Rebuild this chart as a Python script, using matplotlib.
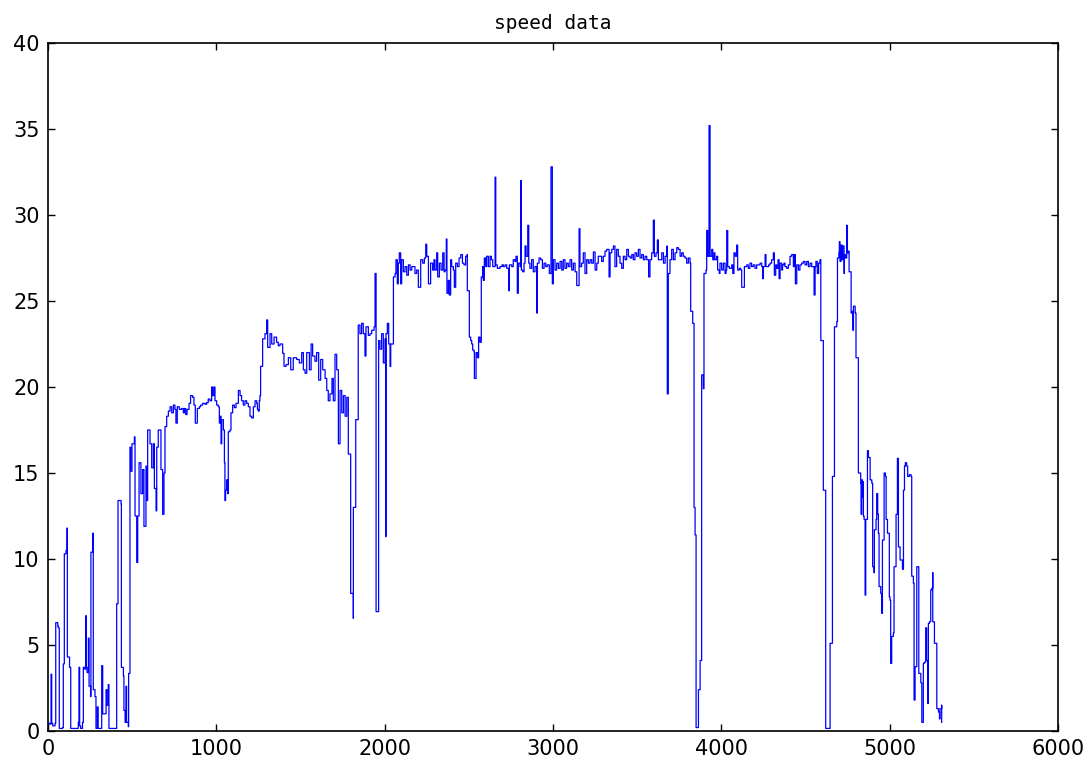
import matplotlib
matplotlib.use('Agg')
import matplotlib.pyplot as plt

# speed samples, section by section
t_start = [2, 10, 18, 22, 28, 42, 46, 58, 61, 67, 87, 91, 97, 107, 113, 115, 128, 135, 170, 180,
           184, 188, 194, 205, 210, 218, 224, 228, 232, 240, 244, 253, 255, 265, 269, 279, 285, 293, 298, 305,
           319, 325, 330, 345, 350, 358, 362, 398, 408, 416, 434, 436, 448, 451, 458, 463, 467, 477, 479, 487,
           491, 499, 513, 517, 527, 533, 541, 552, 562, 570, 582, 586, 592, 606, 616, 626, 632, 642, 646, 655,
           667, 671, 681, 689, 695]
v_start = [0.45, 0.4, 3.3, 0.45, 0.3, 0.45, 6.3, 6.1, 6.0, 0.15, 0.2, 3.9, 10.3, 10.5, 11.8, 4.3, 3.7, 0.15, 0.15, 0.5,
           3.7, 0.3, 0.15, 0.5, 3.7, 3.6, 6.7, 3.7, 3.4, 5.4, 2.6, 2.0, 10.4, 11.5, 2.4, 2.0, 0.15, 1.4, 0.15, 0.15,
           3.8, 1.0, 1.0, 2.4, 1.5, 2.7, 0.15, 0.15, 7.4, 13.4, 13.2, 3.7, 3.2, 1.2, 0.5, 2.6, 0.5, 0.25, 3.35, 16.5,
           15.1, 16.7, 17.1, 12.5, 9.8, 12.5, 15.6, 13.8, 15.2, 11.9, 15.4, 13.4, 17.5, 16.7, 15.3, 16.7, 14.1, 12.8, 16.5, 17.5,
           17.5, 15.2, 12.6, 15.0, 17.7]

t_19 = [705, 715, 725, 735, 745, 754, 760, 768, 780, 794, 804, 810, 818, 826, 838, 847, 859, 867, 875, 883,
        887, 899, 907, 919, 933, 943, 952, 962, 972, 978, 986, 992, 1002, 1012, 1018, 1024, 1028, 1032, 1042, 1048,
        1051, 1055, 1061, 1067, 1071, 1081, 1087, 1097, 1107, 1117, 1131, 1141, 1150, 1160, 1170, 1180, 1190, 1200, 1210, 1220,
        1230, 1240, 1244, 1249, 1255, 1259]
v_19 = [18.3, 18.6, 18.85, 18.5, 18.95, 18.7, 17.9, 18.85, 18.7, 18.75, 18.5, 18.75, 18.4, 18.7, 19.05, 19.5, 19.4, 18.95, 17.9, 17.9,
        18.75, 18.85, 18.95, 19.05, 19.0, 19.1, 19.3, 19.2, 20.0, 19.5, 20.0, 19.2, 18.95, 18.85, 17.9, 18.3, 16.7, 18.1, 17.5, 15.6,
        13.4, 14.0, 14.6, 13.8, 17.4, 17.5, 18.5, 18.95, 18.8, 19.05, 19.8, 19.5, 19.2, 18.95, 19.2, 19.05, 18.85, 18.3, 18.2, 18.85,
        19.2, 19.05, 18.7, 18.6, 19.2, 19.5]

t_22 = [1263, 1275, 1289, 1299, 1305, 1319, 1329, 1343, 1358, 1368, 1378, 1394, 1402, 1414, 1428, 1442, 1457, 1477, 1493, 1507,
        1517, 1527, 1537, 1553, 1563, 1572, 1586, 1596, 1608, 1620, 1632, 1646, 1656, 1665, 1675, 1687, 1695, 1705, 1715, 1725,
        1735, 1745, 1755, 1765, 1775]
v_22 = [21.2, 22.8, 23.1, 23.9, 22.3, 23.1, 22.5, 22.9, 22.6, 22.4, 22.5, 21.96, 21.2, 21.3, 21.7, 21.0, 21.7, 21.6, 21.4, 22.0,
        21.0, 20.8, 22.0, 21.0, 22.5, 21.8, 21.5, 22.0, 20.4, 21.6, 21.0, 20.5, 19.8, 19.2, 19.6, 20.5, 19.2, 21.9, 21.0, 16.7,
        19.8, 18.5, 19.5, 18.3, 19.4]

t_dips = [1784, 1798, 1798, 1814, 1814, 1828, 1828, 1843, 1843, 1853, 1863, 1873, 1883, 1889, 1903, 1913, 1923, 1937, 1943, 1949,
          1962, 1964, 1972, 1982, 1992, 2002, 2006, 2008, 2016, 2024, 2032, 2036, 2045]
v_dips = [16.1, 15.4, 8.0, 6.55, 13.0, 13.6, 18.1, 18.5, 23.6, 23.1, 23.7, 23.1, 21.8, 23.5, 23.0, 23.1, 23.3, 23.5, 26.6, 6.94,
          6.94, 22.7, 22.2, 23.1, 21.4, 22.8, 11.3, 23.1, 23.7, 22.5, 21.2, 22.5, 22.5]

t_cruise1 = [2052, 2062, 2067, 2075, 2081, 2087, 2095, 2101, 2111, 2121, 2131, 2141, 2151, 2161, 2170, 2180, 2190, 2200, 2210, 2214,
             2226, 2236, 2244, 2250, 2260, 2269, 2273, 2285, 2293, 2299, 2309, 2315, 2325, 2335, 2345, 2353, 2359, 2366, 2370, 2378,
             2384, 2392, 2398, 2408, 2414, 2422, 2432, 2442, 2452, 2462, 2471, 2481, 2491, 2491, 2503, 2503, 2511, 2517, 2523, 2531,
             2533, 2543, 2543, 2551, 2558, 2558, 2566, 2574, 2582, 2586, 2592, 2600, 2606, 2616, 2626, 2634, 2642, 2656, 2660, 2669,
             2685, 2697, 2705, 2715, 2725, 2737, 2741, 2755, 2764, 2774, 2780, 2788, 2794, 2804, 2808, 2812, 2820, 2828, 2834, 2840,
             2850, 2856, 2863, 2873, 2883, 2893, 2903, 2907, 2917, 2927, 2937, 2947, 2957, 2966, 2978, 2988, 2996, 3002, 3012, 3022,
             3032, 3042, 3052, 3061, 3071, 3081, 3091, 3101, 3111, 3121, 3131, 3141, 3155, 3160, 3170, 3180, 3190, 3200, 3210, 3220,
             3230, 3240, 3250, 3260, 3269]
v_cruise1 = [26.4, 26.6, 27.4, 26.0, 27.2, 27.8, 26.0, 27.4, 26.7, 27.0, 26.5, 27.1, 26.8, 27.0, 27.0, 26.6, 26.8, 25.8, 25.8, 27.4,
             27.2, 27.5, 28.3, 27.6, 26.0, 26.0, 27.2, 26.8, 27.4, 26.8, 27.8, 26.4, 27.2, 26.8, 27.8, 26.7, 26.8, 28.6, 25.45, 26.2,
             25.35, 27.4, 27.0, 26.8, 25.8, 27.2, 27.0, 27.5, 27.7, 27.2, 27.1, 27.6, 27.7, 25.6, 24.8, 22.9, 22.7, 22.5, 22.15, 22.05,
             20.5, 20.6, 22.0, 21.7, 21.8, 22.9, 22.6, 26.4, 27.0, 26.2, 27.5, 27.0, 27.6, 27.0, 27.6, 27.4, 27.0, 32.2, 27.1, 26.9,
             27.0, 27.1, 27.0, 27.1, 26.9, 25.6, 27.1, 27.0, 27.4, 27.3, 27.6, 25.45, 27.2, 27.0, 32.0, 26.8, 26.7, 27.2, 28.2, 27.6,
             29.4, 27.2, 26.9, 27.4, 26.7, 27.0, 24.3, 27.2, 27.5, 27.4, 26.9, 27.2, 27.0, 27.1, 26.6, 32.8, 26.0, 27.4, 26.8, 27.2,
             26.9, 27.3, 26.8, 27.4, 26.9, 27.2, 27.0, 27.4, 26.8, 27.2, 26.7, 25.9, 29.2, 27.0, 27.2, 27.8, 26.6, 27.4, 27.2, 27.4,
             27.2, 27.85, 26.8, 27.2, 27.6]

t_cruise2 = [3279, 3289, 3299, 3309, 3319, 3333, 3339, 3349, 3359, 3368, 3378, 3388, 3398, 3408, 3418, 3428, 3438, 3448, 3458, 3468,
             3477, 3487, 3497, 3507, 3517, 3527, 3537, 3547, 3557, 3568, 3576, 3586, 3596, 3602, 3612, 3620, 3626, 3636, 3646, 3656,
             3666, 3677, 3679, 3685, 3695, 3705, 3715, 3725, 3735, 3745, 3755, 3764, 3774, 3784, 3794, 3804, 3814, 3818, 3830, 3838,
             3844, 3850, 3862, 3864, 3874, 3883, 3893, 3897, 3909, 3913, 3919, 3927, 3933, 3943, 3949, 3957, 3962, 3972, 3978, 3988,
             3992, 4002, 4012, 4022, 4028, 4032, 4038, 4048, 4062, 4068, 4075, 4083, 4091, 4097, 4107, 4115, 4121, 4131, 4137, 4151,
             4160, 4170, 4180, 4190, 4200, 4210]
v_cruise2 = [27.6, 27.3, 27.6, 27.9, 28.0, 26.4, 27.8, 28.0, 28.2, 27.0, 28.0, 27.6, 27.2, 26.9, 27.6, 27.4, 28.0, 27.6, 27.5, 27.7,
             27.4, 27.8, 27.6, 28.0, 27.5, 27.7, 27.4, 27.6, 27.4, 26.4, 27.4, 27.8, 29.7, 27.6, 27.8, 28.55, 27.4, 27.4, 27.8, 27.2,
             27.6, 28.2, 19.6, 26.6, 27.4, 28.0, 27.4, 27.8, 28.1, 28.0, 27.6, 27.8, 27.6, 27.5, 27.2, 27.5, 27.2, 24.4, 23.7, 13.0,
             11.4, 0.2, 0.2, 2.4, 4.1, 20.7, 19.9, 26.6, 26.8, 29.1, 27.6, 35.2, 27.6, 28.0, 27.4, 27.8, 27.4, 27.6, 26.8, 26.6,
             27.2, 26.8, 27.2, 26.6, 26.8, 29.1, 27.0, 26.9, 27.1, 26.6, 27.8, 27.6, 28.25, 26.8, 26.9, 26.8, 25.8, 25.8, 27.0, 27.1,
             26.9, 27.2, 27.0, 27.1, 26.9, 27.1]

t_cruise3 = [4230, 4240, 4246, 4250, 4260, 4265, 4273, 4281, 4289, 4299, 4309, 4315, 4323, 4329, 4337, 4343, 4349, 4359, 4364, 4372,
             4378, 4388, 4398, 4408, 4418, 4428, 4434, 4440, 4448, 4458, 4467, 4477, 4487, 4497, 4507, 4517, 4527, 4537, 4547, 4551,
             4557, 4562, 4570, 4578, 4586]
v_cruise3 = [27.2, 27.0, 26.3, 27.0, 27.7, 27.0, 27.0, 27.1, 27.2, 27.4, 27.8, 26.5, 27.1, 26.9, 27.4, 26.3, 27.2, 26.8, 27.1, 27.2,
             27.0, 26.9, 27.1, 27.6, 27.7, 27.0, 27.7, 26.0, 27.1, 26.8, 27.1, 27.2, 27.3, 27.1, 27.3, 27.0, 27.2, 27.0, 27.0, 25.35,
             27.0, 27.3, 26.6, 27.2, 27.4]

t_end = [4591, 4591, 4606, 4606, 4620, 4620, 4646, 4646, 4660, 4660, 4672, 4672, 4686, 4690, 4698, 4701, 4705, 4711, 4717, 4721,
         4729, 4731, 4737, 4745, 4749, 4755, 4759, 4771, 4771, 4777, 4781, 4785, 4795, 4800, 4814, 4814, 4828, 4830, 4834, 4838,
         4840, 4844, 4848, 4854, 4858, 4868, 4874, 4884, 4894, 4899, 4907, 4909, 4919, 4923, 4929, 4933, 4937, 4947, 4953, 4957,
         4967, 4975, 4979, 4987, 4998, 5002, 5006, 5012, 5022, 5026, 5038, 5046, 5052, 5052, 5062, 5076, 5082, 5088, 5093, 5101,
         5107, 5117, 5127, 5131, 5141, 5145, 5145, 5151, 5161, 5171, 5173, 5185, 5191, 5200, 5200, 5206, 5214, 5220, 5226, 5230,
         5236, 5244, 5250, 5256, 5256, 5266, 5266, 5280, 5280, 5290, 5296, 5299, 5309, 5309]
v_end = [27.4, 22.7, 22.15, 14.0, 13.0, 0.15, 0.15, 5.1, 5.7, 14.8, 15.85, 23.5, 23.8, 27.5, 27.8, 28.45, 27.3, 28.25, 27.4, 28.2,
         26.6, 27.7, 27.5, 29.4, 27.8, 27.9, 26.7, 26.5, 24.3, 24.4, 23.3, 24.7, 24.3, 21.7, 21.4, 15.0, 14.4, 12.6, 14.6, 13.6,
         14.5, 12.5, 12.3, 7.9, 12.3, 16.3, 15.9, 14.6, 14.4, 9.55, 9.2, 11.7, 12.3, 13.8, 12.6, 11.5, 8.4, 8.0, 6.84, 11.1,
         15.0, 14.8, 12.3, 11.5, 7.8, 7.6, 3.93, 5.5, 5.7, 9.55, 12.6, 15.85, 15.4, 10.7, 9.94, 9.4, 14.0, 15.4, 15.6, 15.4,
         14.8, 14.9, 14.8, 9.0, 8.6, 4.5, 1.8, 3.74, 9.55, 9.55, 3.35, 2.8, 0.5, 0.5, 3.93, 4.0, 6.0, 4.1, 1.6, 6.25,
         6.35, 8.2, 8.3, 9.2, 6.35, 6.35, 5.1, 5.1, 1.3, 1.1, 0.7, 1.3, 1.5, 0.5]

x_ticks = [0, 1000, 2000, 3000, 4000, 5000, 6000]
y_ticks = [0, 5, 10, 15, 20, 25, 30, 35, 40]

t = t_start + t_19 + t_22 + t_dips + t_cruise1 + t_cruise2 + t_cruise3 + t_end
v = v_start + v_19 + v_22 + v_dips + v_cruise1 + v_cruise2 + v_cruise3 + v_end

fig = plt.figure(figsize=(10.9, 7.63), dpi=100)
ax = fig.add_axes([48 / 1090, 32 / 763, 1010 / 1090, 688 / 763])
# sample-and-hold look like the original trace
ax.plot(t, v, color='#0000ff', linewidth=0.9, drawstyle='steps-post')

ax.set_xlim(0, 6000)
ax.set_ylim(0, 40)
ax.set_xticks(x_ticks)
ax.set_yticks(y_ticks)
ax.tick_params(direction='in', top=True, right=True, length=5, width=1,
               labelsize=15, pad=6)
for s in ax.spines.values():
    s.set_linewidth(1.2)
ax.set_title('speed data', fontsize=14, pad=10, family='DejaVu Sans Mono')

fig.savefig('out.png', dpi=100)
